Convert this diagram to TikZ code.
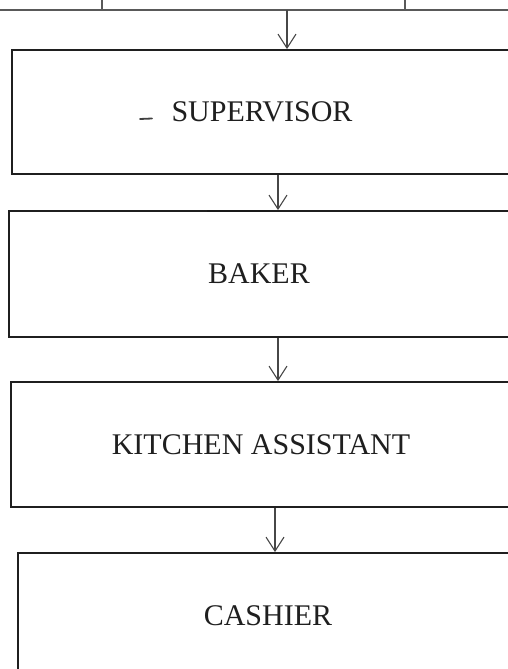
\documentclass[tikz,border=0pt]{standalone}
\usepackage{fontspec}
\setmainfont{Liberation Serif}
\usetikzlibrary{arrows.meta}

\begin{document}
\begin{tikzpicture}[x=1pt, y=-1pt, >={Straight Barb[length=14pt, width=18pt]},
    rolebox/.style={draw=black!88, line width=1.8pt, minimum width=500pt, inner sep=0pt,
        font=\fontsize{30}{36}\selectfont, text=black!88},
    link/.style={->, draw=black!72, line width=1.1pt}]
            \useasboundingbox (0, 0) rectangle (508, 669);
            \clip (0, 0) rectangle (508, 669);
            \draw[black!65, line width=1.2pt] (0, 10) -- (508, 10);
            \draw[black!65, line width=1.2pt] (102, 0) -- (102, 10);
            \draw[black!65, line width=1.2pt] (405, 0) -- (405, 10);
            \coordinate (top) at (287, 10);
            \node[rolebox, minimum height=124pt] (supervisor) at (262, 112) {SUPERVISOR};
            \node[rolebox, minimum height=126pt] (baker) at (259, 274) {BAKER};
            \node[rolebox, minimum height=125pt] (kitchen) at (261, 444.5) {KITCHEN ASSISTANT};
            \node[rolebox, minimum height=126pt] (cashier) at (268, 616) {CASHIER};
            \draw[link] (top) -- (top |- supervisor.north);
            \draw[link] (supervisor.south -| 278, 0) -- (baker.north -| 278, 0);
            \draw[link] (baker.south -| 278, 0) -- (kitchen.north -| 278, 0);
            \draw[link] (kitchen.south -| 275, 0) -- (cashier.north -| 275, 0);
            \draw[black!90, line width=2.6pt] (207, 211) -- (270, 211);
            \draw[black!75, line width=1.8pt, line cap=round] (140, 119) -- (152, 118.5);
        \end{tikzpicture}
\end{document}
